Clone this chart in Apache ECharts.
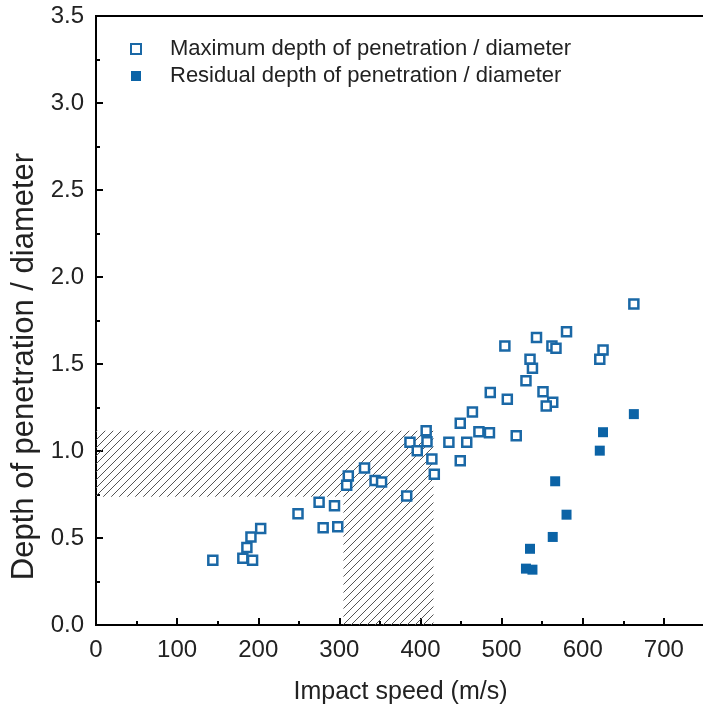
<!DOCTYPE html>
<html><head><meta charset="utf-8">
<script src="https://cdn.jsdelivr.net/npm/echarts@6/dist/echarts.min.js"></script>
<style>html,body{margin:0;padding:0;background:#fff;overflow:hidden}#c{width:703px;height:710px}</style>
</head><body><div id="c"></div>
<script>
// Data
const maxSpeed = [144,181,193,186,191,203,249,275,294,280,298,311,309,331,344,352,383,387,407,408,396,414,417,435,449,457,449,464,486,472,485,663,504,543,580,562,567,535,538,530,625,621,507,551,563,555,518];
const maxDepth = [0.372,0.384,0.372,0.446,0.506,0.555,0.640,0.706,0.686,0.559,0.565,0.857,0.803,0.902,0.830,0.822,0.741,1.051,1.117,1.053,1.002,0.954,0.867,1.050,1.160,1.050,0.944,1.224,1.336,1.111,1.105,1.845,1.604,1.653,1.685,1.604,1.590,1.527,1.476,1.404,1.580,1.528,1.297,1.340,1.280,1.259,1.088];
const resSpeed = [663,625,621,566,580,563,535,530,538];
const resDepth = [1.212,1.108,1.002,0.826,0.634,0.506,0.438,0.324,0.318];
// hatched region bounds (speed and depth values)
const hatchSpeed = [0, 305, 416];
const hatchDepth = [0, 0.737, 1.117];
const seriesNames = ['Maximum depth of penetration / diameter','Residual depth of penetration / diameter'];

const blue = '#1a68a6';
const pc = document.createElement('canvas');
pc.width = 8; pc.height = 8;
const g = pc.getContext('2d');
g.strokeStyle = '#555'; g.lineWidth = 1;
g.beginPath();
g.moveTo(-1, 9); g.lineTo(9, -1);
g.moveTo(-5, 5); g.lineTo(5, -5);
g.moveTo(3, 13); g.lineTo(13, 3);
g.stroke();

const font = 'Liberation Sans, Arial, sans-serif';
const chart = echarts.init(document.getElementById('c'), null, {renderer:'canvas'});
chart.setOption({
  animation: false,
  grid: {left: 96, right: -42, top: 16, bottom: 85, outerBoundsMode: 'none', containLabel: false,
         show: true, borderColor: '#000', borderWidth: 2},
  legend: {
    data: seriesNames, orient: 'vertical', left: 125, top: 33, itemWidth: 10, itemHeight: 10, itemGap: 5,
    textStyle: {fontFamily: font, fontSize: 22, color: '#222', padding: [0,0,0,24], lineHeight: 22}
  },
  xAxis: {
    type: 'value', min: 0, max: 800, interval: 100,
    name: 'Impact speed (m/s)', nameLocation: 'middle', nameGap: 55,
    nameTextStyle: {fontFamily: font, fontSize: 25, color: '#222', padding: [0, 40, 0, 0]},
    axisLine: {show: true, onZero: false, lineStyle: {color: '#000', width: 2}},
    axisTick: {show: true, inside: true, length: 7, lineStyle: {color: '#000', width: 2}},
    minorTick: {show: true, splitNumber: 2, length: 4, lineStyle: {color: '#000', width: 2}},
    axisLabel: {fontFamily: font, fontSize: 24, color: '#222', margin: 13},
    splitLine: {show: false}
  },
  yAxis: {
    type: 'value', min: 0, max: 3.5, interval: 0.5,
    name: 'Depth of penetration / diameter', nameLocation: 'middle', nameGap: 53,
    nameTextStyle: {fontFamily: font, fontSize: 31, color: '#222', padding: [0, 92, 0, 0]},
    axisLine: {show: true, onZero: false, lineStyle: {color: '#000', width: 2}},
    axisTick: {show: true, inside: true, length: 7, lineStyle: {color: '#000', width: 2}},
    minorTick: {show: true, splitNumber: 2, length: 4, lineStyle: {color: '#000', width: 2}},
    axisLabel: {fontFamily: font, fontSize: 24, color: '#222', margin: 12, formatter: v => v.toFixed(1)},
    splitLine: {show: false}
  },
  series: [
    {
      type: 'scatter', data: [], z: 1, silent: true,
      markArea: {
        silent: true,
        itemStyle: {color: {image: pc, repeat: 'repeat'}, borderWidth: 0},
        data: [
          [{coord: [hatchSpeed[0], hatchDepth[1]]}, {coord: [hatchSpeed[1], hatchDepth[2]]}],
          [{coord: [hatchSpeed[1], hatchDepth[0]]}, {coord: [hatchSpeed[2], hatchDepth[2]]}]
        ]
      }
    },
    {
      name: seriesNames[0], type: 'scatter', z: 3, symbol: 'rect', symbolSize: 9,
      itemStyle: {color: '#fff', borderColor: blue, borderWidth: 2.5, opacity: 1},
      data: maxSpeed.map((s, i) => [s, maxDepth[i]])
    },
    {
      name: seriesNames[1], type: 'scatter', z: 3, symbol: 'rect', symbolSize: 10,
      itemStyle: {color: '#0b63a6', opacity: 1},
      data: resSpeed.map((s, i) => [s, resDepth[i]])
    }
  ]
});
</script>
</body></html>
